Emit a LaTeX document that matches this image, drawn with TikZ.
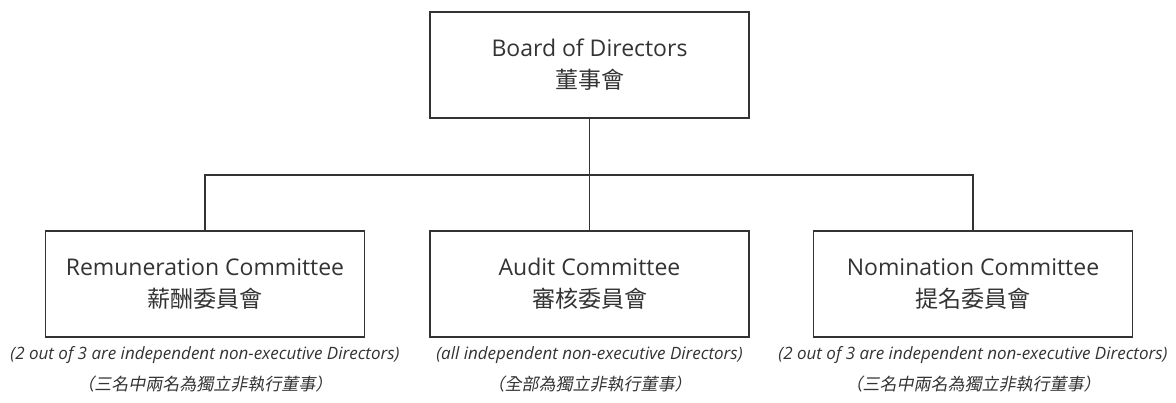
\documentclass[tikz,border=0pt]{standalone}
\usepackage{fontspec}
\setmainfont{Open Sans}
\newfontfamily\cjk{Noto Sans CJK TC}
\newfontfamily\cjkslant[FakeSlant=0.2]{Noto Sans CJK TC}
\usetikzlibrary{positioning}
\definecolor{inkgrey}{HTML}{333333}

\begin{document}
\begin{tikzpicture}[x=1pt,y=-1pt]
        \useasboundingbox (0,0) rectangle (1176,402);
        \tikzset{unit/.style={draw=inkgrey, line width=1.3pt, text=inkgrey, minimum width=319pt, minimum height=106pt, align=center, inner sep=0pt, font=\fontsize{23}{32}\selectfont}}
        \tikzset{note/.style={text=inkgrey, align=center, inner sep=0pt, font=\fontsize{17}{31}\selectfont\itshape}}
        \node[unit] (board) at (589.5,65) {Board of Directors\\{\cjk 董事會}};
        \node[unit] (remuneration) at (205,284) {Remuneration Committee\\{\cjk 薪酬委員會}};
        \node[unit] (audit) at (589.5,284) {Audit Committee\\{\cjk 審核委員會}};
        \node[unit] (nomination) at (973,284) {Nomination Committee\\{\cjk 提名委員會}};
        % Connect the committees to the board
        \coordinate (bus) at (589.5,175);
        \draw[inkgrey, line width=1.3pt] (board.south) -- (bus);
        \draw[inkgrey, line width=1.3pt] (remuneration.north) |- (bus) -| (nomination.north);
        \draw[inkgrey, line width=1.3pt] (bus) -- (audit.north);
        % Label the committees with their make-up
        \node[note] (remunerationnote) [below=9pt of remuneration] {(2 out of 3 are independent non-executive Directors)\\{\cjkslant （三名中兩名為獨立非執行董事）}};
        \node[note] (auditnote) [below=9pt of audit] {(all independent non-executive Directors)\\{\cjkslant （全部為獨立非執行董事）}};
        \node[note] (nominationnote) [below=9pt of nomination] {(2 out of 3 are independent non-executive Directors)\\{\cjkslant （三名中兩名為獨立非執行董事）}};
\end{tikzpicture}
\end{document}
